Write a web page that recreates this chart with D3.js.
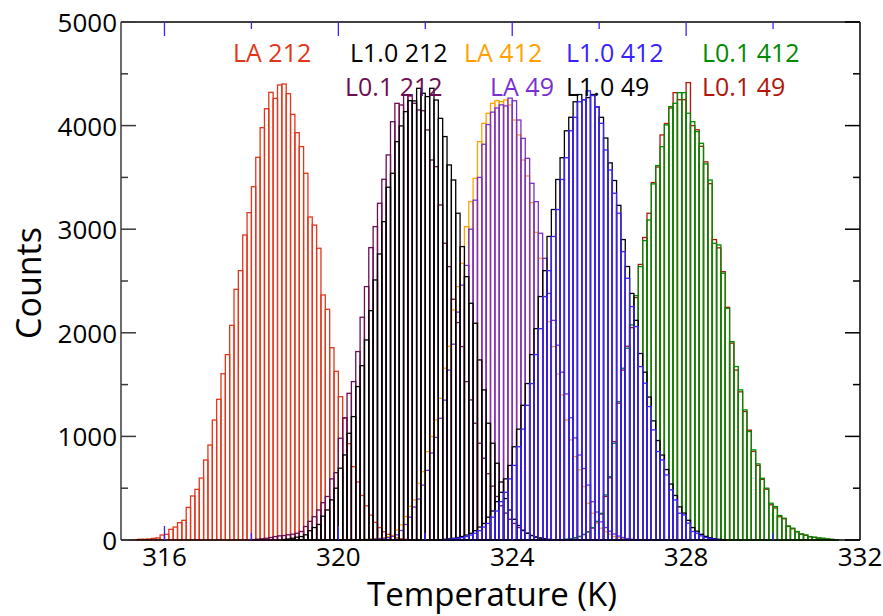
<!DOCTYPE html>
<html>
<head>
<meta charset="utf-8">
<script src="https://cdn.jsdelivr.net/npm/d3@7"></script>
<style>
  body { margin: 0; background: #fff; }
  text { font-family: 'Open Sans', 'Noto Sans', sans-serif; }
</style>
</head>
<body>
<svg id="chart" width="883" height="616"></svg>
<script>
// histogram bin width (K)
const binWidth = 0.1;

// counts per 0.1 K bin; start = left edge of the first bin
const startLA212 = 315.2;
const countsLA212 = [2,4,7,7,10,16,20,48,
  55,103,125,167,190,315,425,489,598,772,
  917,1158,1358,1605,1789,2072,2420,2600,2944,3160,
  3410,3694,3980,4163,4321,4263,4392,4402,4308,4109,
  3932,3797,3540,3118,3040,2816,2365,2227,1856,1628,
  1383,1175,930,708,560,430,330,240,170,120,
  80,55,35,20,12,6,3];

const startL01_212 = 318.0;
const countsL01_212 = [5,8,12,17,24,33,40,43,50,56,
  65,82,130,180,225,290,360,420,590,650,
  982,1180,1416,1529,1819,2150,2446,2822,3025,3250,
  3482,3717,4038,4215,4199,4296,4286,4215,4151,4144,
  3958,3668,3604,3234,2864,2639,2324,2099,1867,1529,
  1352,1127,934,789,640,520,420,330,260,200,
  160,120,90,65,45,30,20,12,6];

const startL10_212 = 318.7;
const countsL10_212 = [5,10,17,
  27,33,50,90,120,150,230,290,387,500,
  693,821,1030,1191,1481,1683,1931,2214,2510,2761,
  3073,3405,3540,3845,3997,4135,4241,4238,4360,4312,
  4280,4360,4247,4070,3894,3620,3475,3154,2832,2542,
  2285,2092,1738,1449,1127,934,741,560,400,290,
  200,140,95,65,42,28,18,10,5];

const startLA412 = 320.5;
const countsLA412 = [4,6,9,12,16,
  20,33,45,97,146,226,325,387,548,660,
  853,1000,1159,1368,1658,1870,2221,2446,2671,3025,
  3266,3491,3845,4022,4119,4215,4241,4231,4247,4199,
  4054,3910,3668,3514,3257,2970,2719,2349,2108,1867,
  1603,1400,1159,966,805,677,516,355,258,162,
  114,80,55,35,22,12,6];

const startLA49 = 320.6;
const countsLA49 = [4,6,9,13,
  17,22,35,50,92,150,220,318,395,530,
  672,840,990,1175,1350,1640,1890,2200,2460,2650,
  3000,3280,3500,3820,4010,4130,4170,4200,4190,4265,
  4240,4054,3877,3684,3443,3266,2961,2719,2380,2120,
  1880,1620,1410,1180,985,820,690,530,370,270,
  175,120,85,58,38,24,14,7];

const startL10_49 = 322.3;
const countsL10_49 = [4,7,11,17,24,34,48,
  65,90,125,160,220,280,370,460,590,720,
  900,1070,1300,1510,1790,2040,2350,2600,2930,3190,
  3480,3690,3950,4080,4230,4300,4250,4270,4300,4180,
  4080,3880,3640,3470,3230,2900,2640,2380,2120,1800,
  1620,1380,1150,960,820,680,540,430,320,260,
  190,120,85,55,35,22,13,7,4];

const startL10_412 = 322.4;
const countsL10_412 = [4,7,11,17,24,34,
  48,65,90,125,160,220,280,370,460,590,
  720,900,1070,1300,1510,1790,2040,2350,2600,2930,
  3190,3480,3690,3950,4080,4230,4250,4335,4290,4183,
  4022,3765,3572,3347,3154,2784,2526,2253,2060,1674,
  1513,1288,1063,854,773,628,484,387,258,242,
  162,82,65,40,25,15,8,4];

const startL01_412 = 325.1;
const countsL01_412 = [4,7,13,22,35,55,80,120,180,
  258,435,612,934,1336,1658,1851,2076,2359,2639,
  2890,3089,3437,3614,3797,4006,4183,4215,4318,4318,
  4119,4038,3942,3829,3630,3475,2864,2848,2575,2237,
  1915,1674,1449,1256,1047,870,735,596,500,355,
  323,236,210,136,114,82,59,49,33,27,
  20,17,10,6,3];

const startL01_49 = 325.1;
const countsL01_49 = [3,6,12,20,33,52,78,115,175,
  250,420,600,950,1320,1640,1870,2050,2340,2660,
  2920,3154,3450,3600,3910,4020,4170,4318,4250,4250,
  4415,4000,3960,3800,3650,3440,2900,2820,2590,2246,
  1900,1640,1430,1240,1060,855,720,585,490,340,
  310,225,205,130,108,78,56,45,31,25,
  18,14,9,5,2];

// series in drawing order (later ones on top)
const seriesNames  = ['LA 212', 'L0.1 212', 'L0.1 49', 'L0.1 412', 'LA 412', 'LA 49', 'L1.0 212', 'L1.0 49', 'L1.0 412'];
const seriesStarts = [startLA212, startL01_212, startL01_49, startL01_412, startLA412, startLA49, startL10_212, startL10_49, startL10_412];
const seriesCounts = [countsLA212, countsL01_212, countsL01_49, countsL01_412, countsLA412, countsLA49, countsL10_212, countsL10_49, countsL10_412];

const xTicks = [316, 320, 324, 328, 332];
const yTicks = [0, 1000, 2000, 3000, 4000, 5000];

// styling
const colors = {
  'LA 212': '#e2361a',
  'L1.0 212': '#000000',
  'L0.1 212': '#6c0e52',
  'LA 412': '#ffa200',
  'L1.0 412': '#3a22ff',
  'L0.1 412': '#008a00',
  'LA 49': '#7a30cf',
  'L1.0 49': '#000000',
  'L0.1 49': '#b0160a'
};
const legendLayout = [
  ['LA 212', 233, 62], ['L1.0 212', 350, 62], ['LA 412', 464, 62], ['L1.0 412', 566, 62], ['L0.1 412', 702, 62],
  ['L0.1 212', 345, 96], ['LA 49', 490, 96], ['L1.0 49', 566, 96], ['L0.1 49', 702, 96]
];

const plot = { left: 121, right: 860, top: 22, bottom: 540 };

const svg = d3.select('#chart');

const x = d3.scaleLinear().domain([315, 332]).range([plot.left, plot.right]);
const y = d3.scaleLinear().domain([0, 5000]).range([plot.bottom, plot.top]);

// histogram bars, outlines only
seriesNames.forEach((name, si) => {
  const bins = seriesCounts[si].map((c, i) => ({ t0: seriesStarts[si] + i * binWidth, c: c }));
  svg.append('g')
    .selectAll('rect')
    .data(bins)
    .enter().append('rect')
    .attr('x', d => x(d.t0))
    .attr('width', d => x(d.t0 + binWidth) - x(d.t0))
    .attr('y', d => y(d.c))
    .attr('height', d => y(0) - y(d.c))
    .attr('fill', 'none')
    .attr('stroke', colors[name])
    .attr('stroke-width', 1.3);
});

// frame
const frame = svg.append('g');
frame.append('line').attr('x1', plot.left).attr('x2', plot.left).attr('y1', plot.top).attr('y2', plot.bottom)
  .attr('stroke', '#3a3a3a').attr('stroke-width', 1.5);
frame.append('line').attr('x1', plot.right).attr('x2', plot.right).attr('y1', plot.top).attr('y2', plot.bottom)
  .attr('stroke', '#000').attr('stroke-width', 1.5);
frame.append('line').attr('x1', plot.left).attr('x2', plot.right).attr('y1', plot.top).attr('y2', plot.top)
  .attr('stroke', '#000').attr('stroke-width', 1.5);
frame.append('line').attr('x1', plot.left).attr('x2', plot.right).attr('y1', plot.bottom).attr('y2', plot.bottom)
  .attr('stroke', '#000').attr('stroke-width', 1.5);

// y ticks on both sides, pointing inward
const yMinor = d3.range(500, 5000, 1000);
[[plot.left, 1, '#3a3a3a'], [plot.right, -1, '#000']].forEach(([xp, dir, col]) => {
  frame.selectAll(null).data(yTicks).enter().append('line')
    .attr('x1', xp).attr('x2', xp + dir * 15).attr('y1', d => y(d)).attr('y2', d => y(d))
    .attr('stroke', col).attr('stroke-width', 1.5);
  frame.selectAll(null).data(yMinor).enter().append('line')
    .attr('x1', xp).attr('x2', xp + dir * 7).attr('y1', d => y(d)).attr('y2', d => y(d))
    .attr('stroke', col).attr('stroke-width', 1.5);
});

// x ticks (blue) on bottom and top, pointing inward
const xMajor = [316, 320, 324, 328];
const xMinor = [318, 322, 326, 330];
const tickBlue = '#3a22ff';
[[plot.bottom, -1], [plot.top, 1]].forEach(([yp, dir]) => {
  frame.selectAll(null).data(xMajor).enter().append('line')
    .attr('x1', d => x(d)).attr('x2', d => x(d)).attr('y1', yp).attr('y2', yp + dir * 14)
    .attr('stroke', tickBlue).attr('stroke-width', 1.3);
  frame.selectAll(null).data(xMinor).enter().append('line')
    .attr('x1', d => x(d)).attr('x2', d => x(d)).attr('y1', yp).attr('y2', yp + dir * 7)
    .attr('stroke', tickBlue).attr('stroke-width', 1.3);
});

// tick labels
svg.append('g').selectAll('text').data(yTicks).enter().append('text')
  .attr('x', 117).attr('y', d => y(d) + 10)
  .attr('text-anchor', 'end').attr('font-size', 26).attr('fill', '#000')
  .text(d => d);
svg.append('g').selectAll('text').data(xTicks).enter().append('text')
  .attr('x', d => x(d)).attr('y', 566)
  .attr('text-anchor', 'middle').attr('font-size', 26).attr('fill', '#000')
  .text(d => d);

// axis titles
svg.append('text')
  .attr('x', 492).attr('y', 606)
  .attr('text-anchor', 'middle').attr('font-size', 33)
  .text('Temperature (K)');
svg.append('text')
  .attr('transform', 'translate(41,283) rotate(-90)')
  .attr('text-anchor', 'middle').attr('font-size', 34)
  .text('Counts');

// legend labels
svg.append('g').selectAll('text').data(legendLayout).enter().append('text')
  .attr('x', d => d[1]).attr('y', d => d[2])
  .attr('font-size', 25)
  .attr('fill', d => colors[d[0]])
  .text(d => d[0]);
</script>
</body>
</html>
